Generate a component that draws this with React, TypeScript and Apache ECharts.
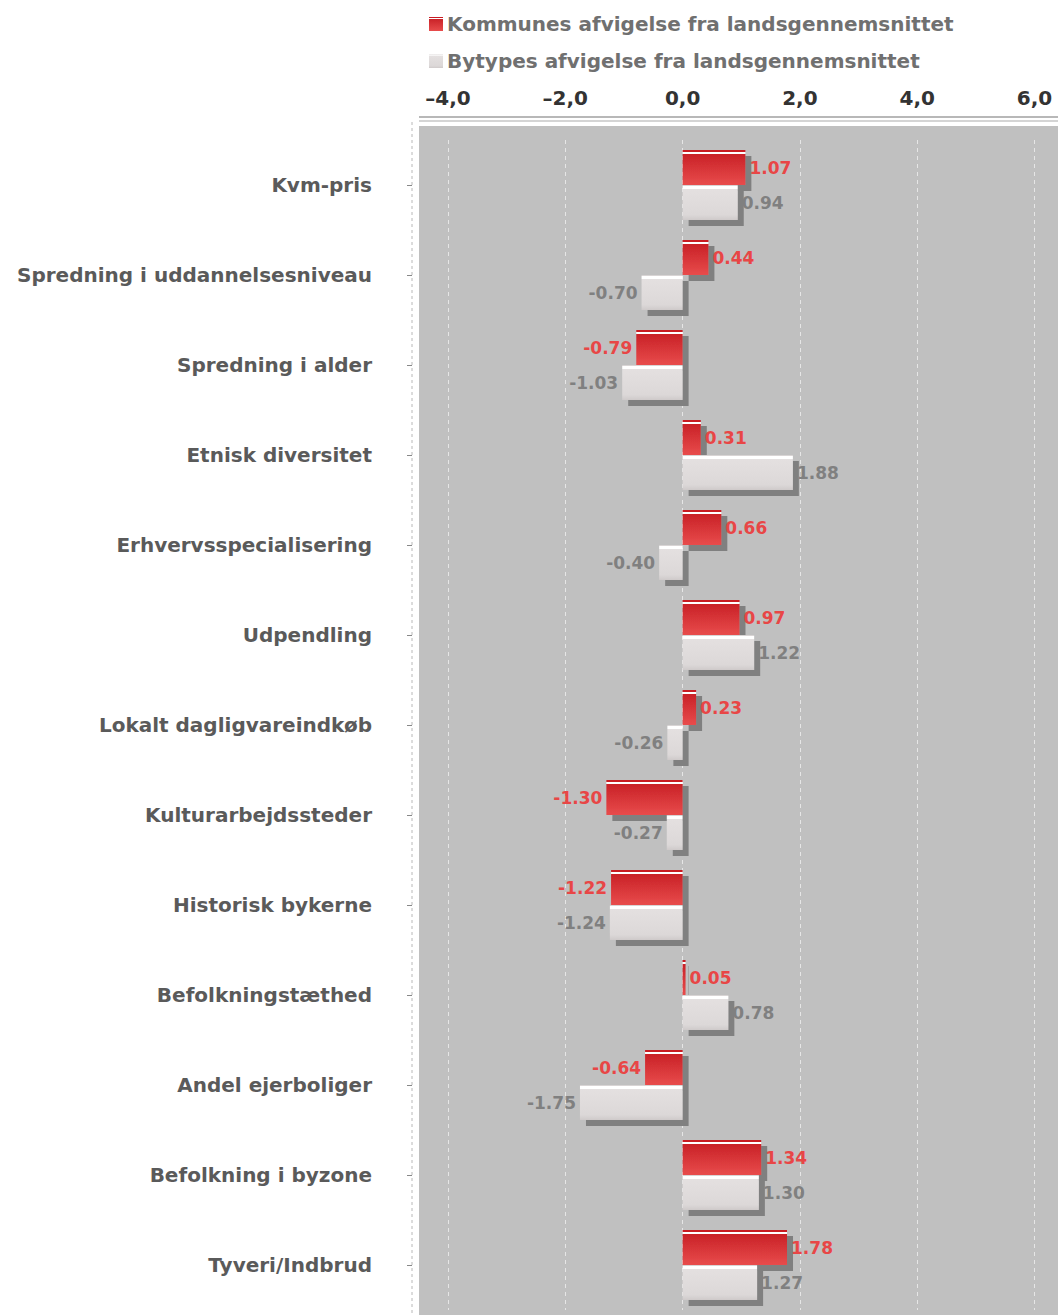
import React, { useEffect, useRef } from "react";
import * as echarts from "echarts";

const categories = [
  "Kvm-pris",
  "Spredning i uddannelsesniveau",
  "Spredning i alder",
  "Etnisk diversitet",
  "Erhvervsspecialisering",
  "Udpendling",
  "Lokalt dagligvareindkøb",
  "Kulturarbejdssteder",
  "Historisk bykerne",
  "Befolkningstæthed",
  "Andel ejerboliger",
  "Befolkning i byzone",
  "Tyveri/Indbrud",
];
const kommuneValues = [1.07, 0.44, -0.79, 0.31, 0.66, 0.97, 0.23, -1.3, -1.22, 0.05, -0.64, 1.34, 1.78];
const bytypeValues = [0.94, -0.7, -1.03, 1.88, -0.4, 1.22, -0.26, -0.27, -1.24, 0.78, -1.75, 1.3, 1.27];
const seriesNames = [
  "Kommunes afvigelse fra landsgennemsnittet",
  "Bytypes afvigelse fra landsgennemsnittet",
];

const FONT = "'DejaVu Sans', Verdana, sans-serif";

const redGrad = new echarts.graphic.LinearGradient(0, 0, 0, 1, [
  { offset: 0, color: "#c81c24" },
  { offset: 0.05, color: "#c81c24" },
  { offset: 0.06, color: "#ffffff" },
  { offset: 0.11, color: "#ffffff" },
  { offset: 0.12, color: "#c92127" },
  { offset: 1, color: "#e84c4c" },
]);
const grayGrad = new echarts.graphic.LinearGradient(0, 0, 0, 1, [
  { offset: 0, color: "#d8d4d4" },
  { offset: 0.03, color: "#d8d4d4" },
  { offset: 0.04, color: "#ffffff" },
  { offset: 0.1, color: "#ffffff" },
  { offset: 0.12, color: "#e4e0e0" },
  { offset: 0.85, color: "#dcd8d8" },
  { offset: 1, color: "#cfcaca" },
]);

function makeData(values: number[]) {
  return values.map((v) => ({
    value: v,
    label: { position: v < 0 ? "left" : "right" },
  }));
}

export default function App() {
  const ref = useRef<HTMLDivElement>(null);
  useEffect(() => {
    const chart = echarts.init(ref.current!, null, { renderer: "svg" });
    const labelCommon = {
      show: true,
      distance: 4,
      fontFamily: FONT,
      fontWeight: "bold",
      fontSize: 17,
      formatter: (p: any) => Number(p.value).toFixed(2),
    };
    chart.setOption({
      animation: false,
      backgroundColor: "#ffffff",
      legend: {
        orient: "vertical",
        left: 424,
        top: 9,
        itemGap: 17,
        itemWidth: 14,
        itemHeight: 14,
        icon: "rect",
        textStyle: { fontFamily: FONT, fontWeight: "bold", fontSize: 20, color: "#707070", padding: [0, 0, 0, -1] },
        data: seriesNames,
      },
      graphic: [
        { type: "rect", z: -100, shape: { x: 419, y: 126, width: 639, height: 1189 }, style: { fill: "#c0c0c0" } },
        { type: "line", z: -90, shape: { x1: 419, y1: 117, x2: 1058, y2: 117 }, style: { stroke: "#b8b8b8", lineWidth: 2 } },
        { type: "line", z: -90, shape: { x1: 419, y1: 121, x2: 1058, y2: 121 }, style: { stroke: "#d4d4d4", lineWidth: 2 } },
        { type: "line", z: -90, shape: { x1: 412, y1: 122, x2: 412, y2: 1315 }, style: { stroke: "#b8b8b8", lineWidth: 1, lineDash: [3, 3] } },
      ],
      grid: { left: 448, top: 140, width: 610, height: 1170, containLabel: false },
      xAxis: {
        type: "value",
        position: "top",
        min: -4,
        max: 6.4,
        interval: 2,
        offset: 23,
        axisLine: { show: false },
        axisTick: { show: false },
        axisLabel: {
          margin: 9,
          fontFamily: FONT,
          fontWeight: "bold",
          fontSize: 20,
          color: "#333333",
          formatter: (v: number) => v.toFixed(1).replace(".", ",").replace("-", "–"),
        },
        splitLine: { show: true, lineStyle: { color: "#e6e6e6", type: [4, 4], width: 1 } },
      },
      yAxis: {
        type: "category",
        inverse: true,
        data: categories,
        offset: 36,
        axisLine: { show: false, onZero: false },
        axisTick: { show: true, alignWithLabel: true, length: 5, lineStyle: { color: "#888888" } },
        axisLabel: {
          margin: 40,
          fontFamily: FONT,
          fontWeight: "bold",
          fontSize: 20,
          color: "#5a5a5a",
        },
        splitLine: { show: false },
      },
      series: [
        {
          name: seriesNames[0],
          type: "bar",
          barWidth: 35,
          barGap: "0%",
          data: makeData(kommuneValues),
          itemStyle: {
            color: redGrad,
            shadowColor: "#808080",
            shadowBlur: 0,
            shadowOffsetX: 6,
            shadowOffsetY: 6,
          },
          label: { ...labelCommon, color: "#e84646" },
        },
        {
          name: seriesNames[1],
          type: "bar",
          barWidth: 35,
          barGap: "0%",
          data: makeData(bytypeValues),
          itemStyle: {
            color: grayGrad,
            shadowColor: "#808080",
            shadowBlur: 0,
            shadowOffsetX: 6,
            shadowOffsetY: 6,
          },
          label: { ...labelCommon, color: "#808080" },
        },
      ],
    });
    return () => chart.dispose();
  }, []);
  return (
    <div
      ref={ref}
      style={{ position: "absolute", left: 0, top: 0, width: 1058, height: 1315 }}
    />
  );
}
